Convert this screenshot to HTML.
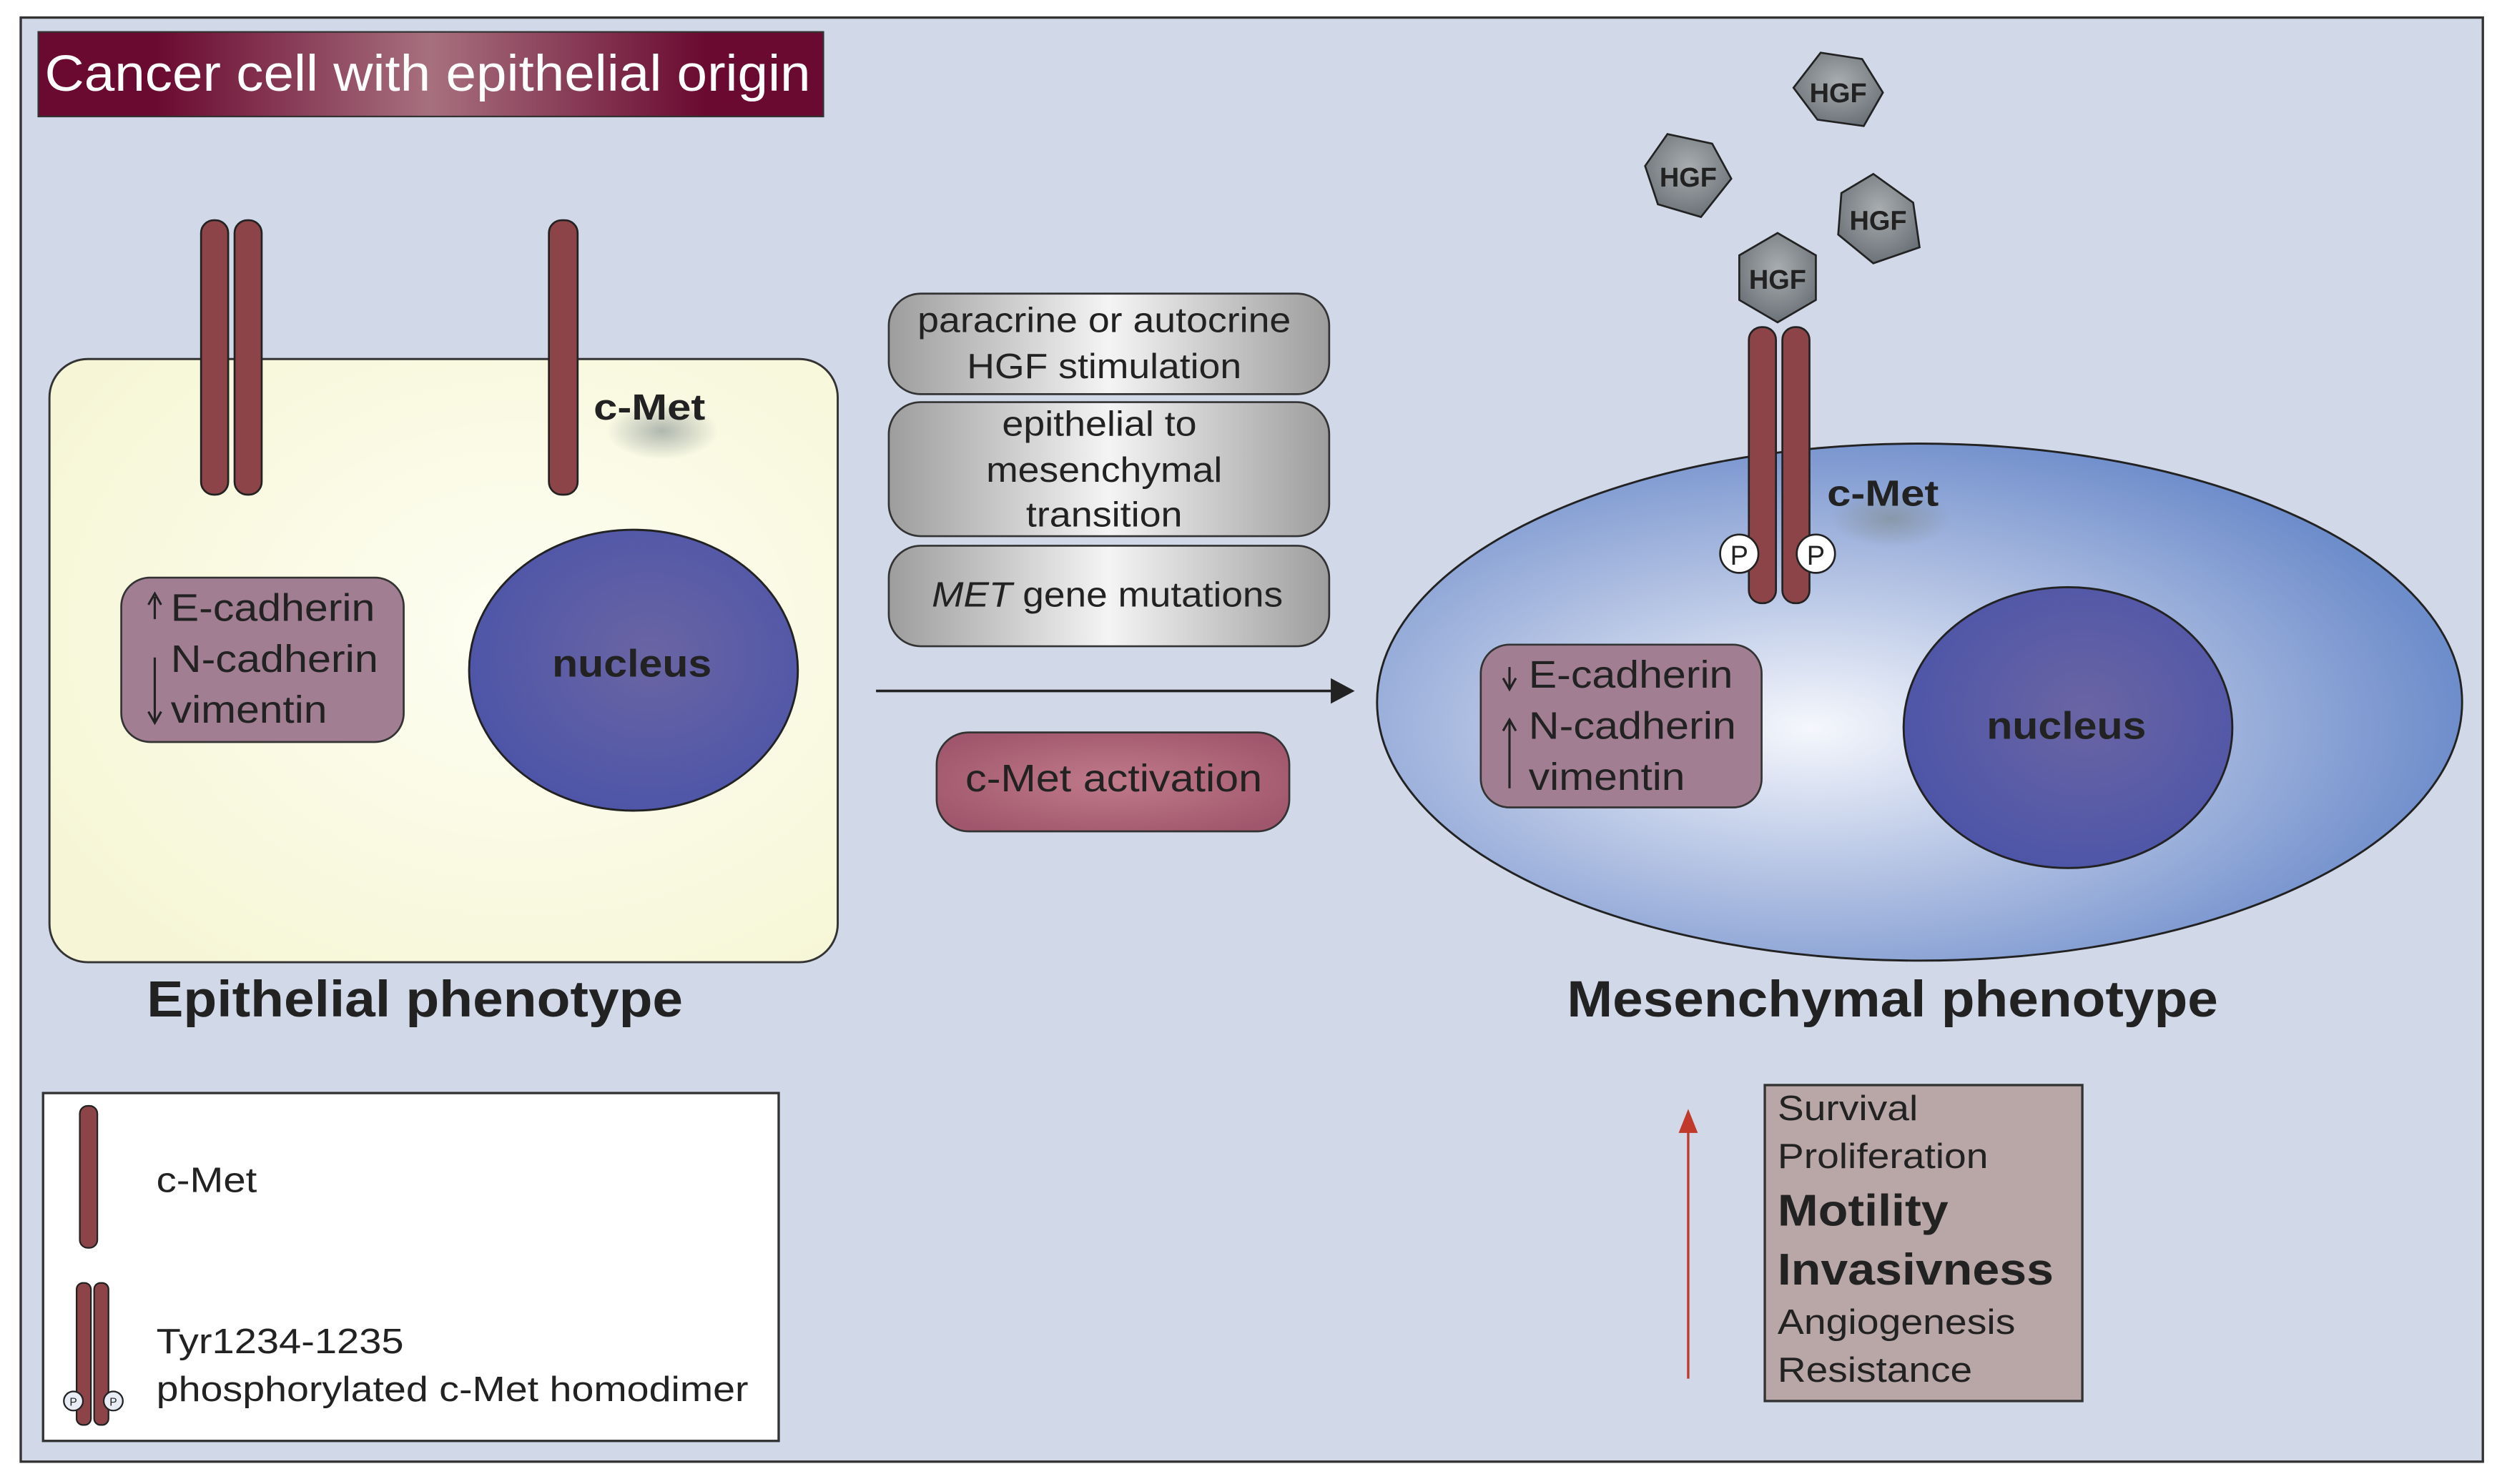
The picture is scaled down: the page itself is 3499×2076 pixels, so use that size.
<!DOCTYPE html>
<html><head><meta charset="utf-8"><style>
html,body{margin:0;padding:0;background:#fff;}
svg{display:block;}
text{font-family:"Liberation Sans",sans-serif;}
</style></head><body>
<svg width="3499" height="2076" viewBox="0 0 1568 930" preserveAspectRatio="none" xmlns="http://www.w3.org/2000/svg">
<defs>
<linearGradient id="title" x1="0" x2="1" y1="0" y2="0">
<stop offset="0" stop-color="#6a0a30"/><stop offset="0.15" stop-color="#6a0a30"/><stop offset="0.5" stop-color="#a7707f"/><stop offset="0.85" stop-color="#6a0a30"/><stop offset="1" stop-color="#6a0a30"/></linearGradient>
<radialGradient id="yel" cx="0.6" cy="0.45" r="0.7"><stop offset="0" stop-color="#fefef3"/><stop offset="1" stop-color="#f6f6d6"/></radialGradient>
<radialGradient id="nuc" cx="0.55" cy="0.45" r="0.6"><stop offset="0" stop-color="#6a65a4"/><stop offset="1" stop-color="#4c54a8"/></radialGradient>
<radialGradient id="mes" cx="0.4" cy="0.55" r="0.6"><stop offset="0" stop-color="#f5f7fc"/><stop offset="0.55" stop-color="#aabbe0"/><stop offset="1" stop-color="#6e8dcb"/></radialGradient>
<linearGradient id="gray" x1="0" x2="1"><stop offset="0" stop-color="#9d9d9d"/><stop offset="0.5" stop-color="#f4f4f4"/><stop offset="1" stop-color="#9d9d9d"/></linearGradient>
<radialGradient id="act" cx="0.5" cy="0.5" r="0.6"><stop offset="0" stop-color="#c07a8a"/><stop offset="1" stop-color="#a0566c"/></radialGradient>
<radialGradient id="hex" cx="0.5" cy="0.4" r="0.6"><stop offset="0" stop-color="#a9adb0"/><stop offset="1" stop-color="#6c7378"/></radialGradient>
<radialGradient id="shadow" cx="0.5" cy="0.5" r="0.5"><stop offset="0" stop-color="#7e8a8a" stop-opacity="0.6"/><stop offset="1" stop-color="#7e8a8a" stop-opacity="0"/></radialGradient>
</defs>
<rect width="1568" height="930" fill="#fff"/>
<rect x="13" y="11" width="1543" height="905" fill="#d1d8e8" stroke="#333" stroke-width="1.5"/>
<rect x="24" y="20" width="492" height="53" fill="url(#title)" stroke="#333" stroke-width="1"/>
<text x="28" y="57" font-size="32" fill="#fff" textLength="480" lengthAdjust="spacingAndGlyphs">Cancer cell with epithelial origin</text>

<!-- left cell -->
<rect x="31" y="225" width="494" height="378" rx="24" fill="url(#yel)" stroke="#333" stroke-width="1.3"/>
<ellipse cx="415" cy="270" rx="35" ry="18" fill="url(#shadow)"/>
<rect x="126" y="138" width="17" height="172" rx="8" fill="#8c4448" stroke="#222" stroke-width="1.2"/>
<rect x="147" y="138" width="17" height="172" rx="8" fill="#8c4448" stroke="#222" stroke-width="1.2"/>
<rect x="344" y="138" width="18" height="172" rx="8" fill="#8c4448" stroke="#222" stroke-width="1.2"/>
<text x="372" y="263" font-size="23" font-weight="bold" fill="#222" textLength="70" lengthAdjust="spacingAndGlyphs">c-Met</text>
<rect x="76" y="362" width="177" height="103" rx="18" fill="#a27e93" stroke="#333" stroke-width="1.2"/>
<text x="107" y="389" font-size="24" fill="#222" textLength="128" lengthAdjust="spacingAndGlyphs">E-cadherin</text>
<text x="107" y="421" font-size="24" fill="#222" textLength="130" lengthAdjust="spacingAndGlyphs">N-cadherin</text>
<text x="107" y="453" font-size="24" fill="#222" textLength="98" lengthAdjust="spacingAndGlyphs">vimentin</text>
<path d="M97 388 V374 M93 379 L97 372 L101 379" stroke="#222" stroke-width="1.4" fill="none"/>
<path d="M97 412 V452 M93 446 L97 453 L101 446" stroke="#222" stroke-width="1.4" fill="none"/>
<ellipse cx="397" cy="420" rx="103" ry="88" fill="url(#nuc)" stroke="#222" stroke-width="1.3"/>
<text x="396" y="424" font-size="24" font-weight="bold" fill="#222" text-anchor="middle" textLength="100" lengthAdjust="spacingAndGlyphs">nucleus</text>
<text x="92" y="637" font-size="32" font-weight="bold" fill="#222" textLength="336" lengthAdjust="spacingAndGlyphs">Epithelial phenotype</text>

<!-- middle -->
<rect x="557" y="184" width="276" height="63" rx="20" fill="url(#gray)" stroke="#333" stroke-width="1.2"/>
<text x="575" y="208" font-size="22" fill="#222" textLength="234" lengthAdjust="spacingAndGlyphs">paracrine or autocrine</text>
<text x="606" y="237" font-size="22" fill="#222" textLength="172" lengthAdjust="spacingAndGlyphs">HGF stimulation</text>
<rect x="557" y="252" width="276" height="84" rx="20" fill="url(#gray)" stroke="#333" stroke-width="1.2"/>
<text x="628" y="273" font-size="22" fill="#222" textLength="122" lengthAdjust="spacingAndGlyphs">epithelial to</text>
<text x="618" y="302" font-size="22" fill="#222" textLength="148" lengthAdjust="spacingAndGlyphs">mesenchymal</text>
<text x="643" y="330" font-size="22" fill="#222" textLength="98" lengthAdjust="spacingAndGlyphs">transition</text>
<rect x="557" y="342" width="276" height="63" rx="20" fill="url(#gray)" stroke="#333" stroke-width="1.2"/>
<text x="584" y="380" font-size="22" fill="#222" textLength="220" lengthAdjust="spacingAndGlyphs"><tspan font-style="italic">MET</tspan> gene mutations</text>
<line x1="549" y1="433" x2="836" y2="433" stroke="#222" stroke-width="1.6"/>
<path d="M834 425 L849 433 L834 441 Z" fill="#222"/>
<rect x="587" y="459" width="221" height="62" rx="20" fill="url(#act)" stroke="#333" stroke-width="1.2"/>
<text x="605" y="496" font-size="24" fill="#222" textLength="186" lengthAdjust="spacingAndGlyphs">c-Met activation</text>

<!-- right cell -->
<ellipse cx="1203" cy="440" rx="340" ry="162" fill="url(#mes)" stroke="#222" stroke-width="1.3"/>
<ellipse cx="1185" cy="325" rx="38" ry="18" fill="url(#shadow)"/>
<rect x="1096" y="205" width="17" height="173" rx="8" fill="#8c4448" stroke="#222" stroke-width="1.2"/>
<rect x="1117" y="205" width="17" height="173" rx="8" fill="#8c4448" stroke="#222" stroke-width="1.2"/>
<circle cx="1090" cy="347" r="12" fill="#fff" stroke="#222" stroke-width="1.2"/>
<text x="1090" y="354" font-size="17" fill="#222" text-anchor="middle">P</text>
<circle cx="1138" cy="347" r="12" fill="#fff" stroke="#222" stroke-width="1.2"/>
<text x="1138" y="354" font-size="17" fill="#222" text-anchor="middle">P</text>
<text x="1145" y="317" font-size="23" font-weight="bold" fill="#222" textLength="70" lengthAdjust="spacingAndGlyphs">c-Met</text>
<g stroke="#222" stroke-width="1.2" fill="url(#hex)">
<polygon points="1114,146 1138,160 1138,188 1114,202 1090,188 1090,160"/>
<polygon points="1141,33 1167,37 1180,58 1168,79 1139,75 1124,55"/>
<polygon points="1045,84 1073,90 1085,112 1066,136 1039,128 1031,104"/>
<polygon points="1174,109 1199,127 1203,155 1174,165 1152,147 1154,121"/>
</g>
<g font-size="17" font-weight="bold" fill="#222" text-anchor="middle">
<text x="1114" y="181">HGF</text>
<text x="1152" y="64">HGF</text>
<text x="1058" y="117">HGF</text>
<text x="1177" y="144">HGF</text>
</g>
<rect x="928" y="404" width="176" height="102" rx="18" fill="#a27e93" stroke="#333" stroke-width="1.2"/>
<text x="958" y="431" font-size="24" fill="#222" textLength="128" lengthAdjust="spacingAndGlyphs">E-cadherin</text>
<text x="958" y="463" font-size="24" fill="#222" textLength="130" lengthAdjust="spacingAndGlyphs">N-cadherin</text>
<text x="958" y="495" font-size="24" fill="#222" textLength="98" lengthAdjust="spacingAndGlyphs">vimentin</text>
<path d="M946 418 V431 M942 425 L946 432 L950 425" stroke="#222" stroke-width="1.4" fill="none"/>
<path d="M946 494 V452 M942 458 L946 451 L950 458" stroke="#222" stroke-width="1.4" fill="none"/>
<ellipse cx="1296" cy="456" rx="103" ry="88" fill="url(#nuc)" stroke="#222" stroke-width="1.3"/>
<text x="1295" y="463" font-size="24" font-weight="bold" fill="#222" text-anchor="middle" textLength="100" lengthAdjust="spacingAndGlyphs">nucleus</text>
<text x="982" y="637" font-size="32" font-weight="bold" fill="#222" textLength="408" lengthAdjust="spacingAndGlyphs">Mesenchymal phenotype</text>

<!-- legend -->
<rect x="27" y="685" width="461" height="218" fill="#fff" stroke="#333" stroke-width="1.5"/>
<rect x="50" y="693" width="11" height="89" rx="5" fill="#8c4448" stroke="#222" stroke-width="1"/>
<text x="98" y="747" font-size="22" fill="#222" textLength="63" lengthAdjust="spacingAndGlyphs">c-Met</text>
<rect x="48" y="804" width="9" height="89" rx="4" fill="#8c4448" stroke="#222" stroke-width="1"/>
<rect x="59" y="804" width="9" height="89" rx="4" fill="#8c4448" stroke="#222" stroke-width="1"/>
<circle cx="46" cy="878" r="6" fill="#e8ecf4" stroke="#222" stroke-width="1"/>
<circle cx="71" cy="878" r="6" fill="#e8ecf4" stroke="#222" stroke-width="1"/>
<text x="46" y="881" font-size="7" fill="#222" text-anchor="middle">P</text>
<text x="71" y="881" font-size="7" fill="#222" text-anchor="middle">P</text>
<text x="98" y="848" font-size="22" fill="#222" textLength="155" lengthAdjust="spacingAndGlyphs">Tyr1234-1235</text>
<text x="98" y="878" font-size="22" fill="#222" textLength="371" lengthAdjust="spacingAndGlyphs">phosphorylated c-Met homodimer</text>

<!-- outcomes -->
<line x1="1058" y1="864" x2="1058" y2="705" stroke="#c0392b" stroke-width="1.5"/>
<path d="M1052 710 L1058 695 L1064 710 Z" fill="#c0392b"/>
<rect x="1106" y="680" width="199" height="198" fill="#b9a6a6" stroke="#333" stroke-width="1.5"/>
<text x="1114" y="702" font-size="22" fill="#222" textLength="88" lengthAdjust="spacingAndGlyphs">Survival</text>
<text x="1114" y="732" font-size="22" fill="#222" textLength="132" lengthAdjust="spacingAndGlyphs">Proliferation</text>
<text x="1114" y="768" font-size="28" font-weight="bold" fill="#222" textLength="107" lengthAdjust="spacingAndGlyphs">Motility</text>
<text x="1114" y="805" font-size="28" font-weight="bold" fill="#222" textLength="173" lengthAdjust="spacingAndGlyphs">Invasivness</text>
<text x="1114" y="836" font-size="22" fill="#222" textLength="149" lengthAdjust="spacingAndGlyphs">Angiogenesis</text>
<text x="1114" y="866" font-size="22" fill="#222" textLength="122" lengthAdjust="spacingAndGlyphs">Resistance</text>
</svg>
</body></html>
